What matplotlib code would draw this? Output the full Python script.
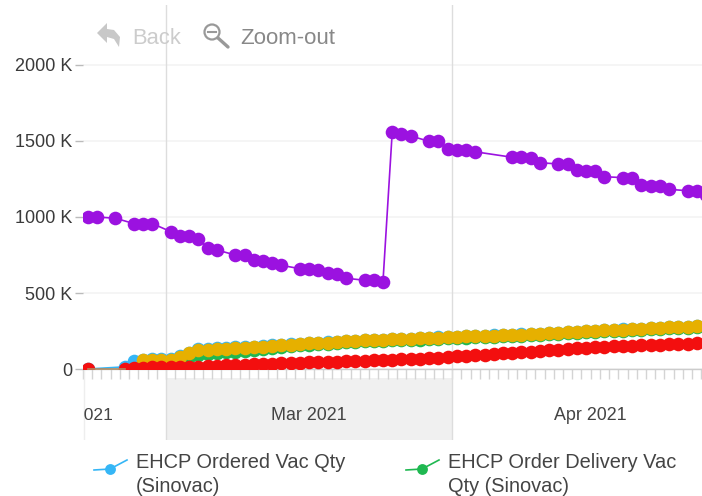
import matplotlib
matplotlib.use("Agg")
import matplotlib.pyplot as plt
import matplotlib.dates as mdates
from matplotlib.patches import Polygon, Circle, Rectangle
import pandas as pd

plt.rcParams['font.family'] = ['Liberation Sans', 'DejaVu Sans']

# fechas con dato (la serie morada no tiene domingos ni algunos dias de abril)
purple_dates = ["02-20", "02-21", "02-23", "02-25", "02-26", "02-27",
                "03-01", "03-02", "03-03", "03-04", "03-05", "03-06",
                "03-08", "03-09", "03-10", "03-11", "03-12", "03-13",
                "03-15", "03-16", "03-17", "03-18", "03-19", "03-20",
                "03-22", "03-23", "03-24", "03-25", "03-26", "03-27",
                "03-29", "03-30", "03-31", "04-01", "04-02", "04-03",
                "04-07", "04-08", "04-09", "04-10",
                "04-12", "04-13", "04-14", "04-15", "04-16", "04-17",
                "04-19", "04-20", "04-21", "04-22", "04-23", "04-24",
                "04-26", "04-27", "04-28"]
purple_vals = [998, 1000, 992, 957, 955, 957,
               904, 875, 875, 857, 796, 783,
               750, 750, 719, 713, 700, 682,
               660, 660, 653, 632, 627, 597,
               584, 584, 574, 1557, 1548, 1533,
               1498, 1498, 1447, 1443, 1443, 1429,
               1393, 1393, 1388, 1357,
               1349, 1349, 1309, 1305, 1300, 1265,
               1259, 1254, 1211, 1206, 1202, 1182,
               1173, 1173, 1147]

ordered_dates = ["02-24", "02-25", "02-26", "02-27", "02-28"]
ordered_head = [14, 50, 62, 64, 66]

daily_dates = [d.strftime("%m-%d") for d in pd.date_range("2021-03-01", "2021-04-28")]
ordered_vals = [68, 88, 108, 129, 134, 137, 140, 143, 146, 148, 152, 157, 160, 163,
                167, 170, 173, 176, 180, 183, 187, 190, 192, 194, 196, 198, 200, 202,
                205, 208, 211, 213, 215, 217, 219, 221, 223, 225, 227, 230, 233, 236,
                239, 242, 246, 249, 252, 255, 258, 260, 263, 266, 269, 272, 275, 277,
                279, 282, 284]
delivery_head = [22, 26, 30]
delivery_vals = [50, 64, 78, 92, 98, 104, 110, 115, 120, 125, 130, 138, 146, 150,
                 155, 159, 163, 167, 171, 175, 179, 182, 184, 186, 188, 190, 192, 194,
                 197, 200, 203, 205, 207, 209, 211, 213, 215, 217, 219, 222, 225, 228,
                 231, 234, 238, 241, 244, 247, 250, 252, 255, 258, 261, 264, 267, 269,
                 271, 274, 276]
gold_head = [58, 59, 60]
gold_vals = [62, 80, 102, 123, 128, 131, 134, 137, 140, 143, 148, 154, 158, 161,
             165, 168, 171, 174, 178, 182, 186, 189, 191, 193, 195, 197, 199, 201,
             204, 207, 210, 212, 214, 216, 218, 220, 222, 224, 226, 229, 232, 235,
             238, 241, 245, 248, 251, 254, 257, 259, 262, 265, 268, 271, 274, 276,
             278, 281, 283]
red_head = [3, 7, 9, 10, 11]
red_vals = [10, 12, 14, 16, 19, 21, 24, 27, 29, 32, 33, 35, 37, 39,
            41, 43, 45, 47, 49, 51, 53, 55, 57, 59, 61, 63, 65, 67,
            70, 74, 78, 83, 87, 91, 95, 99, 103, 107, 111, 115, 119, 123, 127,
            132, 138, 141, 144, 147, 149, 152, 154, 157, 159, 161, 163, 165, 167, 169, 171]

y_ticks = [0, 500, 1000, 1500, 2000]
y_labels = ["0", "500 K", "1000 K", "1500 K", "2000 K"]

BLUE = "#35b6f6"
GREEN = "#1fb851"
GOLD = "#e6b000"
RED = "#f30f0f"
PURPLE = "#9b12e0"


def fechas(lista):
    # el punto va en el centro de la banda del dia
    return [mdates.date2num(pd.Timestamp("2021-" + d)) + 0.5 for d in lista]


fig = plt.figure(figsize=(7.02, 4.96), dpi=100)
W, H = 702, 496
ax = fig.add_axes([83 / W, (H - 440) / H, (W - 83) / W, 435 / H])

x0 = mdates.date2num(pd.Timestamp("2021-02-20"))
mar1 = mdates.date2num(pd.Timestamp("2021-03-01"))
apr1 = mdates.date2num(pd.Timestamp("2021-04-01"))

for s in ["top", "right", "left"]:
    ax.spines[s].set_visible(False)
ax.spines["bottom"].set_position(("data", 0))
ax.spines["bottom"].set_color("#cccccc")
ax.spines["bottom"].set_linewidth(1.0)

ax.set_yticks(y_ticks)
ax.set_yticklabels(y_labels, fontsize=13, color="#3a3a3a")
ax.tick_params(axis="y", length=6, width=1, color="#bbbbbb", pad=1.5)
ax.grid(True, axis="y", color="#f3f3f3", linewidth=1.2)
ax.set_axisbelow(True)

ax.set_xticks([x0 + i for i in range(0, 68)])
ax.set_xticklabels([])
ax.tick_params(axis="x", length=7, width=1, color="#d4d4d4")

# los limites van despues de los ticks, si no set_xticks los ensancha
ax.set_xlim(x0, x0 + 619 / 9.23)
ax.set_ylim(-71 * 2000 / 304, 364 * 2000 / 304)

# banda de marzo y separadores de mes
ax.axvspan(mar1, apr1, ymin=0, ymax=62 / 435, color="#f0f0f0", lw=0, zorder=0)
ax.axvline(mar1, color="#dddddd", lw=1, zorder=1)
ax.axvline(apr1, color="#dddddd", lw=1, zorder=1)
ax.axvline(x0 + 0.1, ymin=0, ymax=71 / 435, color="#eeeeee", lw=1, zorder=1)

ax.text(x0 + 30 / 9.23, -303, "Feb 2021", ha="right", va="center", fontsize=12.6,
        color="#444444", clip_on=True)
ax.text(mar1 + 15.5, -303, "Mar 2021", ha="center", va="center", fontsize=12.9, color="#444444")
ax.text(apr1 + 15, -303, "Apr 2021", ha="center", va="center", fontsize=12.9, color="#444444")

# series, recortadas en el eje como en el original
estilo = dict(marker="o", ms=9.8, mew=0, lw=1.2)
lineas = []
lineas += ax.plot(fechas(["02-20"] + ordered_dates + daily_dates), [0] + ordered_head + ordered_vals,
                  color=BLUE, zorder=3, **estilo)
lineas += ax.plot(fechas(ordered_dates[2:] + daily_dates), delivery_head + delivery_vals,
                  color=GREEN, zorder=4, **estilo)
lineas += ax.plot(fechas(ordered_dates[2:] + daily_dates), gold_head + gold_vals,
                  color=GOLD, zorder=5, **estilo)
lineas += ax.plot(fechas(purple_dates), purple_vals, color=PURPLE, zorder=6, **estilo)
lineas += ax.plot(fechas(["02-20"]), [0], color=RED, zorder=7, **estilo)
lineas += ax.plot(fechas(ordered_dates + daily_dates), red_head + red_vals, color=RED, zorder=7, **estilo)
ax.plot(fechas(["02-20", "02-24"]), [0, 0], color="#b08a60", lw=1.2, zorder=7)
recorte = Rectangle((x0, 0), 70, 3000, transform=ax.transData)
for l in lineas:
    l.set_clip_path(recorte)

# capa en pixeles para barra de herramientas y leyenda
over = fig.add_axes([0, 0, 1, 1], facecolor="none")
over.set_xlim(0, W)
over.set_ylim(H, 0)
over.axis("off")

over.add_patch(Polygon([(97, 33), (107, 23), (107, 29), (114, 30), (120, 37), (119, 47),
                        (114, 39), (107, 37), (107, 43)], closed=True, color="#c8c8c8", lw=0))
over.text(132, 38, "Back", fontsize=15.8, color="#cccccc", va="center")
over.add_patch(Circle((212, 32), 7.5, fill=False, ec="#999999", lw=1.6))
over.plot([208, 216], [32, 32], color="#999999", lw=1.5)
over.plot([218, 228], [38, 47], color="#999999", lw=2.4, solid_capstyle="round")
over.text(240, 38, "Zoom-out", fontsize=16, color="#888888", va="center")

# leyenda
for lx, color, linea1, linea2 in [(94, BLUE, "EHCP Ordered Vac Qty", "(Sinovac)"),
                                  (406, GREEN, "EHCP Order Delivery Vac", "Qty (Sinovac)")]:
    over.plot([lx, lx + 16, lx + 33], [470, 469, 460], color=color, lw=1.2)
    over.plot([lx + 16], [469], "o", color=color, ms=7.8, mew=0)
    over.text(lx + 42, 463, linea1, fontsize=14.4, color="#444444", va="center")
    over.text(lx + 42, 486, linea2, fontsize=14.4, color="#444444", va="center")

fig.savefig("out.png", dpi=100)
